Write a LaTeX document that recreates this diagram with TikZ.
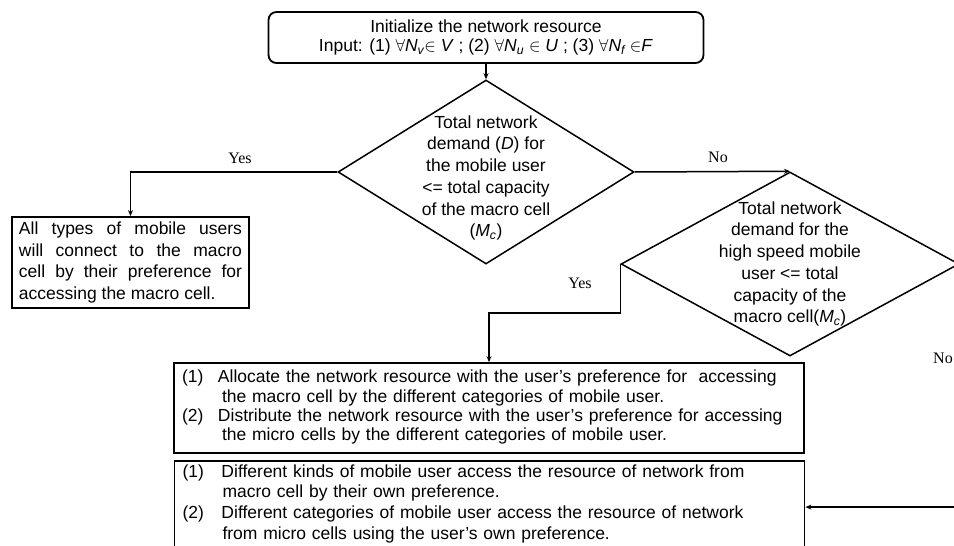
\documentclass[tikz,border=0pt]{standalone}
\usepackage{fontspec}
\setmainfont{Liberation Sans}
\newfontfamily\labelfont{Liberation Serif}
\usetikzlibrary{shapes.geometric}
\usetikzlibrary{arrows.meta}

\begin{document}
\begin{tikzpicture}[x=1pt, y=-1pt,
	box/.style={draw, line width=1.8pt, inner sep=0pt, font=\fontsize{17.5}{19.3}\selectfont},
	decision/.style={diamond, draw, line width=1.5pt, inner sep=0pt},
	flow/.style={line width=1.5pt, -{Stealth[length=6pt, width=5pt]}},
	yesno/.style={font=\labelfont\fontsize{16}{18}\selectfont}]

	\useasboundingbox (0,0) rectangle (954,546);

	% boxes
	\node[box, rounded corners=8pt, minimum width=435pt, minimum height=51pt, align=center, font=\fontsize{17.5}{19.5}\selectfont] (init) at (486,37.5) {Initialize the network resource\\Input: (1) $\forall$\textit{N\textsubscript{v}}$\in$ \textit{V} ; (2) $\forall$\textit{N\textsubscript{u}} $\in$ \textit{U} ; (3) $\forall$\textit{N\textsubscript{f}} $\in$\textit{F}};
	\node[decision, minimum width=296pt, minimum height=184pt, label={[align=center, yshift=-6pt, font=\fontsize{17.5}{21.7}\selectfont]center:Total network\\demand (\textit{D}) for\\the mobile user\\<= total capacity\\of the macro cell\\(\textit{M\textsubscript{c}})}] (test1) at (486,172) {};
	\node[decision, minimum width=338pt, minimum height=184pt, label={[align=center, font=\fontsize{17.5}{21.7}\selectfont]center:Total network\\demand for the\\high speed mobile\\user <= total\\capacity of the\\macro cell(\textit{M\textsubscript{c}})}] (test2) at (790,264) {};
	\node[box, text width=223pt, align=justify, inner xsep=7pt, minimum height=91pt, font=\fontsize{17.5}{21.7}\selectfont] (macroonly) at (130.5,262.5) {All types of mobile users\linebreak will connect to the macro\linebreak cell by their preference for\linebreak accessing the macro cell.};
	\node[box, text width=614pt, align=left, inner xsep=8pt, minimum height=90pt] (alloc) at (489,408) {\begin{tabular}{@{}p{36pt}@{}l@{}}
		(1) & Allocate the network resource with the user's preference for\ \ accessing\\
		& \hspace{4pt}the macro cell by the different categories of mobile user.\\
		(2) & Distribute the network resource with the user's preference for accessing\\
		& \hspace{4pt}the micro cells by the different categories of mobile user.
	\end{tabular}};
	\node[box, anchor=north, text width=614pt, align=left, inner xsep=8pt, inner ysep=2pt, font=\fontsize{17.5}{20.6}\selectfont] (access) at (489.5,460) {\begin{tabular}{@{}p{39pt}@{}l@{}}
		(1) & Different kinds of mobile user access the resource of network from\\
		& \hspace{1pt}macro cell by their own preference.\\
		(2) & Different categories of mobile user access the resource of network\\
		& \hspace{1pt}from micro cells using the user's own preference.\\[6pt]
	\end{tabular}};

	% labels
	\node[yesno] (yes1) at (240,158) {Yes};
	\node[yesno] (no1) at (718,157) {No};
	\node[yesno] (yes2) at (580,283) {Yes};
	\node[yesno] (no2) at (943,358) {No};

	% arrows
	\draw[flow] (init) -- (test1);
	\draw[flow] (test1.west) -| (macroonly.north);
	\draw[flow] (test1.east) -- (test2.north);
	\draw[flow] (test2.west) -- ++(0,49) -| (alloc.north);
	\draw[flow] (test2.east) -- ++(20,0) |- (access.east);
\end{tikzpicture}
\end{document}
